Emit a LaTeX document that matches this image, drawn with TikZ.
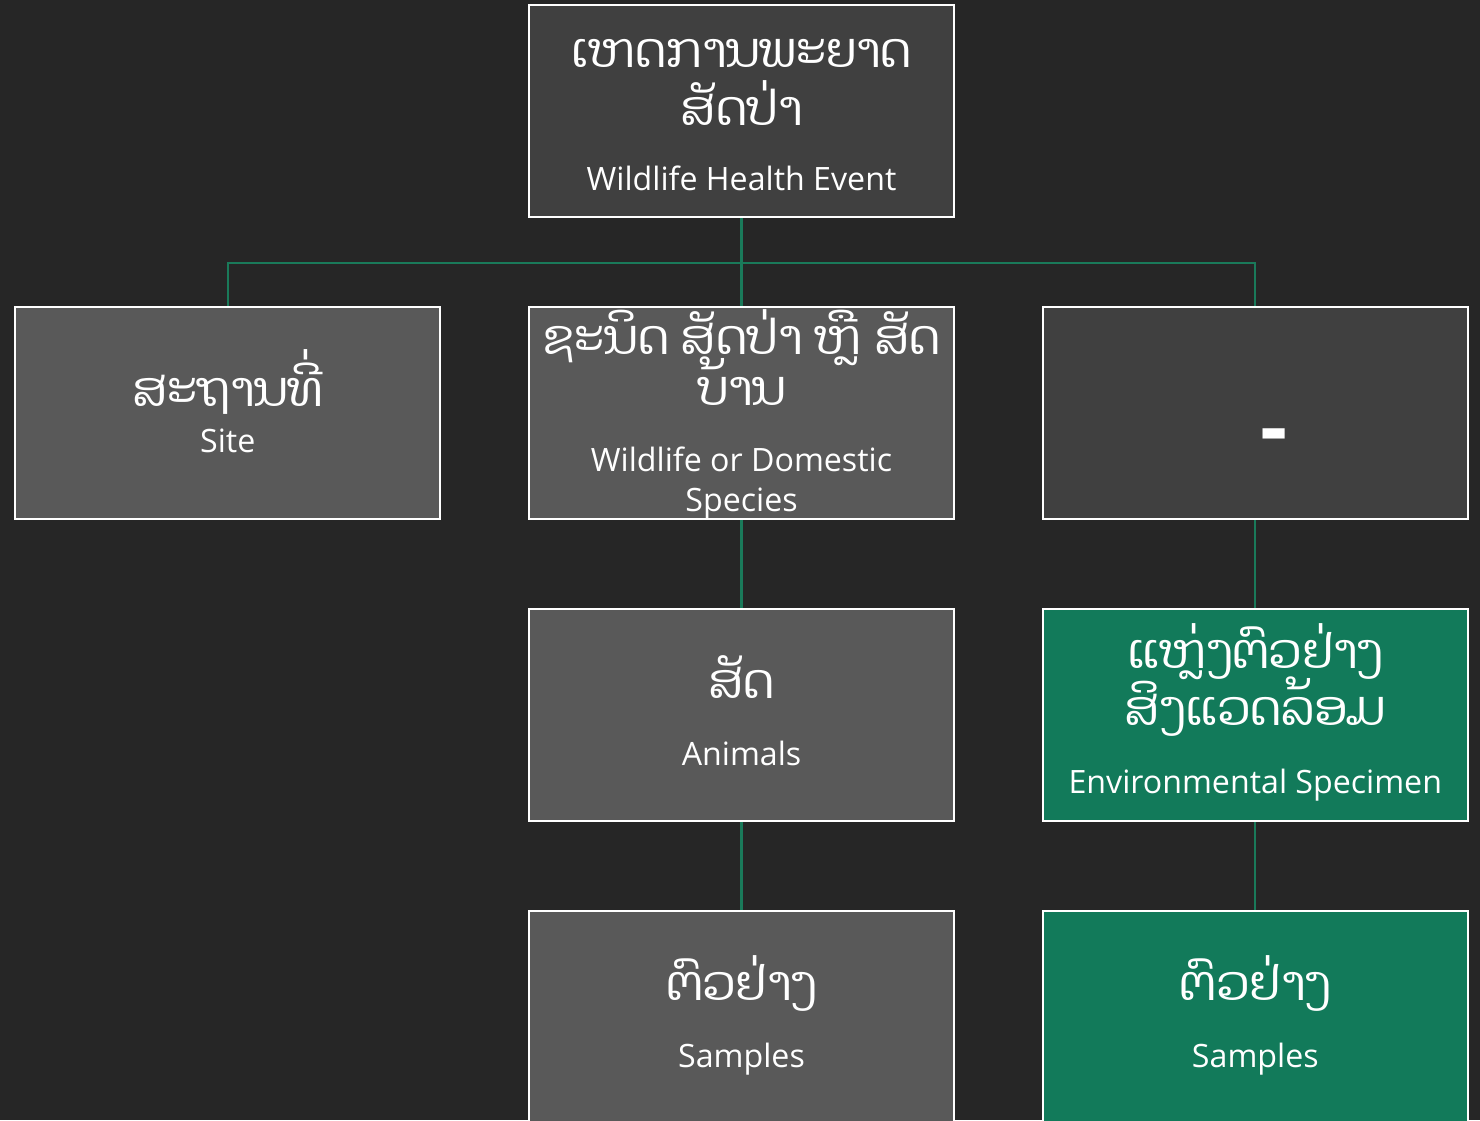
\documentclass[tikz,border=0pt]{standalone}
\usepackage{fontspec}
\setmainfont{Open Sans}
\newfontfamily\laofont[Script=Lao]{Dhyana}
\usepackage{tikz}
\usetikzlibrary{positioning,backgrounds}

\definecolor{bgdark}{HTML}{262626}
\definecolor{boxdark}{HTML}{404040}
\definecolor{boxgrey}{HTML}{595959}
\definecolor{boxgreen}{HTML}{127A5A}
\definecolor{linkgreen}{HTML}{1A7A5A}

\begin{document}
\begin{tikzpicture}[
    node distance=1.754cm and 1.73cm,
    box/.style={draw=white, line width=1.3pt, minimum width=8.5cm,
                minimum height=4.24cm, inner sep=0pt},
    darkbox/.style={box, fill=boxdark},
    greybox/.style={box, fill=boxgrey},
    greenbox/.style={box, fill=boxgreen},
    lao/.style={text=white, anchor=base, inner sep=0pt,
                font=\laofont\fontsize{27.5}{32}\selectfont},
    eng/.style={text=white, anchor=base, inner sep=0pt,
                font=\fontsize{18.3}{22}\selectfont},
    link/.style={draw=linkgreen, line width=1.3pt}
]

\begin{scope}[on background layer]
  \fill[bgdark] (0,0) rectangle (29.6,-22.4);
\end{scope}
\useasboundingbox (0,0) rectangle (29.6,-22.4);

% --- Top of the tree ---
\node[darkbox] (event) at (14.83,-2.22) {};
\node[lao] (eventlo) at ([yshift=0.88cm]event.center) {ເຫດການພະຍາດ};
\node[lao] (eventlt) at ([yshift=-0.28cm]event.center) {ສັດປ່າ};
\node[eng] (eventen) at ([yshift=-1.58cm]event.center) {Wildlife Health Event};

% --- Second row ---
\node[greybox, below=of event] (species) {};
\node[greybox, left=of species] (site) {};
\node[darkbox, right=of species] (blank) {};

\node[lao] (sitelo) at ([yshift=0.12cm]site.center) {ສະຖານທີ່};
\node[eng] (siteen) at ([yshift=-0.80cm]site.center) {Site};

\node[lao] (specieslo) at ([yshift=1.16cm]species.center) {ຊະນິດ ສັດປ່າ ຫຼື ສັດ};
\node[lao] (specieslt) at ([yshift=0.14cm]species.center) {ບ້ານ};
\node[eng] (speciesen) at ([yshift=-1.18cm]species.center) {Wildlife or Domestic};
\node[eng] (speciesem) at ([yshift=-1.98cm]species.center) {Species};

\node[text=white, font=\fontsize{48}{54}\selectfont\bfseries, inner sep=0pt]
    (dash) at ([xshift=0.38cm, yshift=-0.6cm]blank.center) {-};

% --- Third row ---
\node[greybox, below=of species] (animals) {};
\node[greenbox, below=of blank] (envspec) {};

\node[lao] (animalslo) at ([yshift=0.32cm]animals.center) {ສັດ};
\node[eng] (animalsen) at ([yshift=-1.02cm]animals.center) {Animals};

\node[lao] (envlo) at ([yshift=0.92cm]envspec.center) {ແຫຼ່ງຕົວຢ່າງ};
\node[lao] (envlt) at ([yshift=-0.22cm]envspec.center) {ສິງແວດລ້ອມ};
\node[eng] (enven) at ([yshift=-1.58cm]envspec.center) {Environmental Specimen};

% --- Bottom row ---
\node[greybox, below=of animals] (sampanim) {};
\node[greenbox, below=of envspec] (sampenv) {};

\node[lao] (sampanimlo) at ([yshift=0.32cm]sampanim.center) {ຕົວຢ່າງ};
\node[eng] (sampanimen) at ([yshift=-1.02cm]sampanim.center) {Samples};
\node[lao] (sampenvlo) at ([yshift=0.32cm]sampenv.center) {ຕົວຢ່າງ};
\node[eng] (sampenven) at ([yshift=-1.02cm]sampenv.center) {Samples};

% connectors behind the boxes
\begin{scope}[on background layer]
  \draw[link] (event.south) -- ++(0,-0.9) -| (site.north);
  \draw[link] (event.south) -- ++(0,-0.9) -| (blank.north);
  \draw[link] (event.south) -- (species.north);
  \draw[link] (species.south) -- (animals.north);
  \draw[link] (animals.south) -- (sampanim.north);
  \draw[link] (blank.south) -- (envspec.north);
  \draw[link] (envspec.south) -- (sampenv.north);
\end{scope}

\end{tikzpicture}
\end{document}
